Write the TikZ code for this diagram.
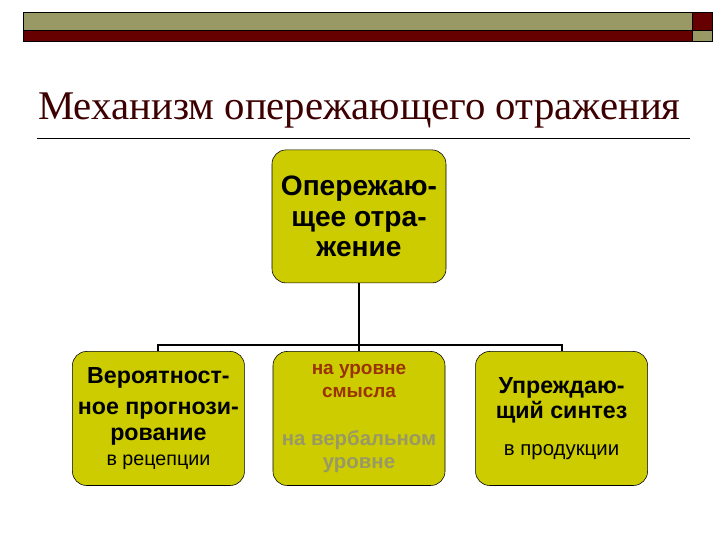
\documentclass[tikz,border=0pt]{standalone}
\usepackage{fontspec}
\setmainfont{Liberation Serif}
\setsansfont{Liberation Sans}
\usetikzlibrary{positioning}
\definecolor{olivebar}{HTML}{999966}
\definecolor{darkred}{HTML}{660000}
\definecolor{boxfill}{HTML}{CCCC00}
\definecolor{sensetext}{HTML}{993300}
\definecolor{verbaltext}{HTML}{999966}
\tikzstyle{box} = [
    rectangle,
    rounded corners=10pt,
    minimum width=4.3cm,
    minimum height=3.35cm,
    inner xsep=0pt,
    align=center,
    draw=black,
    fill=boxfill,
    font=\sffamily
]
\tikzstyle{link} = [
    line width=1.4pt
]

\begin{document}
\begin{tikzpicture}[node distance=1.7cm]
        \useasboundingbox (0,0) rectangle (18,-13.5);
        \fill[white] (0,0) rectangle (18,-13.5);
        \draw[fill=olivebar] (0.575,-0.3) rectangle (17.3,-0.75);
        \draw[fill=darkred] (0.575,-0.75) rectangle (17.3,-1.025);
        \draw[fill=darkred] (17.3,-0.3) rectangle (17.8,-0.75);
        \draw[fill=olivebar] (17.3,-0.75) rectangle (17.8,-1.025);
        \node (title) [anchor=base west, inner sep=0pt, text=darkred!60!black,
            font=\fontsize{29}{33}\selectfont] at (0.95,-2.975) {Механизм опережающего отражения};
        \draw[line width=0.7pt] (0.925,-3.45) -- (17.25,-3.45);

        \node (top) [box, minimum width=4.35cm, minimum height=3.325cm,
            font=\sffamily\bfseries\fontsize{20}{21.5}\selectfont] at (8.975,-5.41)
            {Опережаю-\\щее отра-\\жение};
        \node (mid) [box, below=1.7cm of top, font=\sffamily\bfseries\fontsize{13.5}{16.3}\selectfont]
            {\textcolor{sensetext}{на уровне}\\
             \textcolor{sensetext}{смысла}\\[0.65cm]
             {\fontsize{14.5}{17.5}\selectfont\textcolor{verbaltext}{на вербальном}}\\
             {\fontsize{14.5}{17.5}\selectfont\textcolor{verbaltext}{уровне}}};
        \node (left) [box, left=0.7cm of mid, font=\sffamily\fontsize{16.5}{18}\selectfont]
            {\textbf{Вероятност-}\\[0.15cm]
             \textbf{ное прогнози-}\\
             \textbf{рование}\\
             {\fontsize{14}{16}\selectfont в рецепции}};
        \node (right) [box, right=0.75cm of mid, font=\sffamily\fontsize{16.5}{18}\selectfont]
            {\textbf{Упреждаю-}\\
             \textbf{щий синтез}\\[0.3cm]
             {\fontsize{14.5}{16}\selectfont в продукции}};

        \draw[link] (top.south) -- ++(0,-1.55) coordinate (bus);
        \draw[link] (bus) -| (left.north);
        \draw[link] (bus) -| (right.north);
        \draw[link] (bus) -- (mid.north);
    \end{tikzpicture}
\end{document}
